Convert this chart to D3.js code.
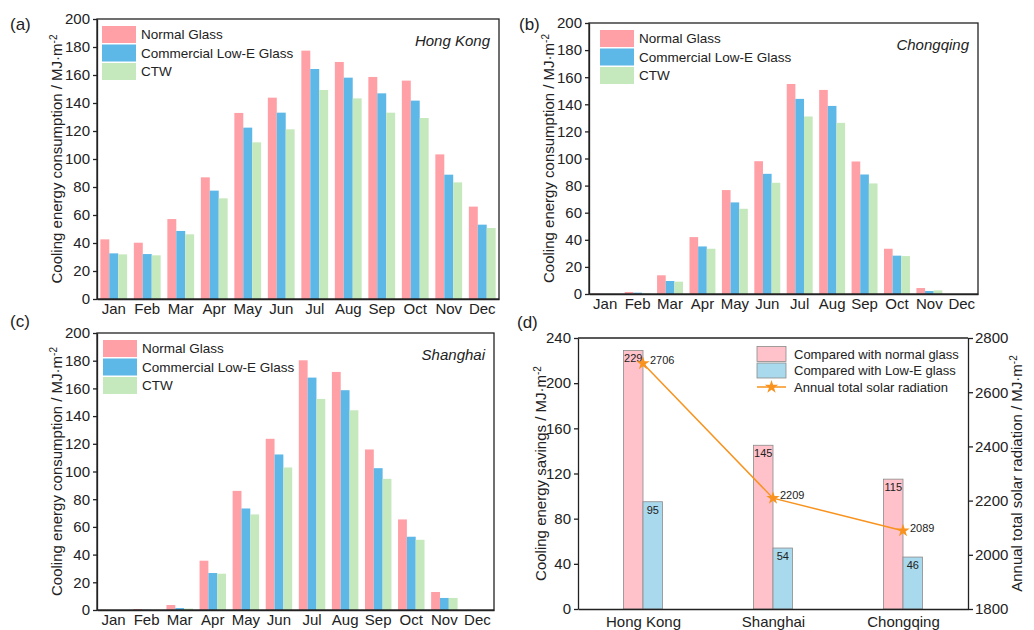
<!DOCTYPE html>
<html>
<head>
<meta charset="utf-8">
<script src="https://cdn.jsdelivr.net/npm/d3@7"></script>
<style>
  body { margin: 0; background: #fff; }
  svg { font-family: "Liberation Sans", Arial, sans-serif; }
</style>
</head>
<body>
<svg width="1034" height="630"></svg>
<script>
// Data
const months = ['Jan', 'Feb', 'Mar', 'Apr', 'May', 'Jun', 'Jul', 'Aug', 'Sep', 'Oct', 'Nov', 'Dec'];
const seriesNames = ['Normal Glass', 'Commercial Low-E Glass', 'CTW'];

const hkNormal = [42.6, 40.2, 57.1, 86.9, 132.9, 143.8, 177.4, 169.3, 158.6, 156.0, 103.3, 66.0];
const hkLowE   = [32.6, 32.1, 48.6, 77.4, 122.4, 133.1, 164.3, 158.1, 146.9, 141.7, 88.8, 53.1];
const hkCTW    = [31.9, 31.2, 46.2, 71.9, 111.9, 121.2, 149.3, 143.3, 133.1, 129.3, 83.3, 50.7];

const cqNormal = [0.3, 1.5, 13.8, 42.0, 76.7, 98.0, 155.0, 150.6, 97.8, 33.4, 4.4, 0];
const cqLowE   = [0.1, 1.0, 9.6, 35.1, 67.6, 88.7, 144.0, 138.8, 88.2, 28.3, 2.2, 0];
const cqCTW    = [0.1, 0.5, 9.1, 33.4, 62.9, 82.1, 131.0, 126.3, 81.6, 28.0, 2.7, 0];

const shNormal = [0.1, 0.7, 3.6, 35.6, 86.0, 123.6, 180.3, 171.9, 115.9, 65.4, 13.0, 0];
const shLowE   = [0, 0.2, 1.4, 26.7, 73.3, 112.3, 167.8, 158.7, 102.4, 52.9, 8.7, 0];
const shCTW    = [0, 0.2, 1.0, 26.2, 69.0, 102.9, 152.4, 144.2, 94.7, 50.7, 8.7, 0];

const cities = ['Hong Kong', 'Shanghai', 'Chongqing'];
const vsNormal = [229, 145, 115];
const vsLowE = [95, 54, 46];
const solarRadiation = [2706, 2209, 2089];

const leftTicks = [0, 20, 40, 60, 80, 100, 120, 140, 160, 180, 200];
const savingTicks = [0, 40, 80, 120, 160, 200, 240];
const solarTicks = [1800, 2000, 2200, 2400, 2600, 2800];

const barColors = ['#ffa0a6', '#5db8e8', '#c6e8bd'];
const ink = '#222';

let svg = d3.select('svg');

function styleAxis(ax) {
    ax.selectAll('path, line').attr('stroke', ink).attr('stroke-width', 1.3);
    ax.selectAll('text').attr('fill', ink).style('font-size', '15px');
}

// rotated title with "MJ·m-2" unit
function axisTitle(x, y, label) {
    let t = svg.append('text')
        .attr('transform', `translate(${x},${y}) rotate(-90)`)
        .attr('text-anchor', 'middle')
        .attr('dy', '0.35em')
        .attr('fill', ink)
        .style('font-size', '15px');
    t.append('tspan').text(label + ' / MJ·m');
    t.append('tspan').attr('dy', '-0.5em').style('font-size', '10px').text('-2');
}

function drawMonthly(box, normal, lowE, ctw, city, tag, legendDx) {
    let rows = months.map((m, i) => ({ month: m, values: [normal[i], lowE[i], ctw[i]] }));

    let xScale = d3.scaleBand()
        .domain(months)
        .range([box.left, box.right])
        .paddingInner(0.2)
        .paddingOuter(0.1);

    let xSub = d3.scaleBand()
        .domain([0, 1, 2])
        .range([0, xScale.bandwidth()]);

    let yScale = d3.scaleLinear()
        .domain([0, 200])
        .range([box.bottom, box.top]);

    let groups = svg.append('g').selectAll('g')
        .data(rows)
        .enter()
        .append('g')
        .attr('transform', d => `translate(${xScale(d.month)},0)`);

    groups.selectAll('rect')
        .data(d => d.values)
        .enter()
        .append('rect')
        .attr('x', (v, i) => xSub(i))
        .attr('y', v => yScale(v))
        .attr('width', xSub.bandwidth())
        .attr('height', v => yScale(0) - yScale(v))
        .attr('fill', (v, i) => barColors[i]);

    // frame
    svg.append('rect')
        .attr('x', box.left).attr('y', box.top)
        .attr('width', box.right - box.left).attr('height', box.bottom - box.top)
        .attr('fill', 'none').attr('stroke', ink).attr('stroke-width', 1.3);

    let yAxis = svg.append('g')
        .attr('transform', `translate(${box.left},0)`)
        .call(d3.axisLeft(yScale).tickValues(leftTicks).tickSize(4).tickSizeOuter(0).tickPadding(3));
    styleAxis(yAxis);

    let xAxis = svg.append('g')
        .attr('transform', `translate(0,${box.bottom})`)
        .call(d3.axisBottom(xScale).tickSize(0).tickPadding(4));
    styleAxis(xAxis);

    axisTitle(box.left - 40, (box.top + box.bottom) / 2, 'Cooling energy consumption');

    // legend
    let lx = box.left + legendDx, ly = box.top + 7;
    seriesNames.forEach((name, i) => {
        svg.append('rect')
            .attr('x', lx).attr('y', ly + i * 18.5)
            .attr('width', 34).attr('height', 17)
            .attr('fill', barColors[i]);
        svg.append('text')
            .attr('x', lx + 39).attr('y', ly + i * 18.5 + 8.5)
            .attr('dy', '0.35em')
            .attr('fill', ink)
            .style('font-size', '13.5px')
            .text(name);
    });

    svg.append('text')
        .attr('x', box.right - 9).attr('y', box.top + 22)
        .attr('dy', '0.35em')
        .attr('text-anchor', 'end')
        .attr('fill', ink)
        .style('font-size', '15px')
        .style('font-style', 'italic')
        .text(city);

    svg.append('text')
        .attr('x', tag.x).attr('y', tag.y)
        .attr('fill', ink)
        .style('font-size', '17px')
        .text(tag.text);
}

drawMonthly({ left: 97, right: 499, top: 19, bottom: 299 }, hkNormal, hkLowE, hkCTW,
    'Hong Kong', { x: 10, y: 30, text: '(a)' }, 5);
drawMonthly({ left: 589, right: 978, top: 23, bottom: 294 }, cqNormal, cqLowE, cqCTW,
    'Chongqing', { x: 519, y: 30, text: '(b)' }, 11);
drawMonthly({ left: 97, right: 494, top: 333, bottom: 610 }, shNormal, shLowE, shCTW,
    'Shanghai', { x: 10, y: 327, text: '(c)' }, 6);

// panel (d)
let box = { left: 578, right: 968, top: 338, bottom: 609 };
let orange = '#f7931e';
let dColors = ['#ffc2cb', '#a9d9ec'];

let xPoint = d3.scalePoint()
    .domain(cities)
    .range([box.left, box.right])
    .padding(0.5);

let ySave = d3.scaleLinear().domain([0, 240]).range([box.bottom, box.top]);
let ySolar = d3.scaleLinear().domain([1800, 2800]).range([box.bottom, box.top]);
let barW = 19.5;

let savingRows = cities.map((c, i) => ({ city: c, values: [vsNormal[i], vsLowE[i]] }));

let cityGroups = svg.append('g').selectAll('g')
    .data(savingRows)
    .enter()
    .append('g')
    .attr('transform', d => `translate(${xPoint(d.city)},0)`);

cityGroups.selectAll('rect')
    .data(d => d.values)
    .enter()
    .append('rect')
    .attr('x', (v, i) => i === 0 ? -barW : 0)
    .attr('y', v => ySave(v))
    .attr('width', barW)
    .attr('height', v => ySave(0) - ySave(v))
    .attr('fill', (v, i) => dColors[i])
    .attr('stroke', '#8a8a8a')
    .attr('stroke-width', 0.8);

cityGroups.selectAll('text')
    .data(d => d.values)
    .enter()
    .append('text')
    .attr('x', (v, i) => i === 0 ? -barW / 2 : barW / 2)
    .attr('y', v => ySave(v) + 12)
    .attr('text-anchor', 'middle')
    .attr('fill', ink)
    .style('font-size', '11px')
    .text(v => v);

let line = d3.line()
    .x((v, i) => xPoint(cities[i]))
    .y(v => ySolar(v));

svg.append('path')
    .datum(solarRadiation)
    .attr('d', line)
    .attr('fill', 'none')
    .attr('stroke', orange)
    .attr('stroke-width', 1.5);

let star = d3.symbol().type(d3.symbolStar).size(55);

svg.selectAll('.star')
    .data(solarRadiation)
    .enter()
    .append('path')
    .attr('class', 'star')
    .attr('d', star)
    .attr('transform', (v, i) => `translate(${xPoint(cities[i])},${ySolar(v)})`)
    .attr('fill', orange);

svg.selectAll('.solarLabel')
    .data(solarRadiation)
    .enter()
    .append('text')
    .attr('class', 'solarLabel')
    .attr('x', (v, i) => xPoint(cities[i]) + 7)
    .attr('y', v => ySolar(v) - 3)
    .attr('dy', '0.35em')
    .attr('fill', ink)
    .style('font-size', '11px')
    .text(v => v);

// top frame line
svg.append('line')
    .attr('x1', box.left).attr('x2', box.right)
    .attr('y1', box.top).attr('y2', box.top)
    .attr('stroke', ink).attr('stroke-width', 1.3);

let dLeft = svg.append('g')
    .attr('transform', `translate(${box.left},0)`)
    .call(d3.axisLeft(ySave).tickValues(savingTicks).tickSize(4).tickSizeOuter(0).tickPadding(3));
styleAxis(dLeft);

let dRight = svg.append('g')
    .attr('transform', `translate(${box.right},0)`)
    .call(d3.axisRight(ySolar).tickValues(solarTicks).tickFormat(d3.format('d'))
        .tickSize(5).tickSizeOuter(0).tickPadding(2));
styleAxis(dRight);

let dBottom = svg.append('g')
    .attr('transform', `translate(0,${box.bottom})`)
    .call(d3.axisBottom(xPoint).tickSize(0).tickPadding(7));
styleAxis(dBottom);

axisTitle(box.left - 37, (box.top + box.bottom) / 2, 'Cooling energy savings');
axisTitle(box.right + 49, (box.top + box.bottom) / 2, 'Annual total solar radiation');

// legend (d)
let legendNames = ['Compared with normal glass', 'Compared with Low-E glass', 'Annual total solar radiation'];
let lx = 757, ly = 354;
legendNames.forEach((name, i) => {
    let cy = ly + i * 16.5;
    if (i < 2) {
        svg.append('rect')
            .attr('x', lx).attr('y', cy - 7.5)
            .attr('width', 29).attr('height', 15)
            .attr('fill', dColors[i])
            .attr('stroke', '#8a8a8a')
            .attr('stroke-width', 0.8);
    } else {
        svg.append('line')
            .attr('x1', lx).attr('x2', lx + 29)
            .attr('y1', cy).attr('y2', cy)
            .attr('stroke', orange).attr('stroke-width', 1.5);
        svg.append('path')
            .attr('d', star)
            .attr('transform', `translate(${lx + 14.5},${cy})`)
            .attr('fill', orange);
    }
    svg.append('text')
        .attr('x', lx + 37).attr('y', cy)
        .attr('dy', '0.35em')
        .attr('fill', ink)
        .style('font-size', '13px')
        .text(name);
});

svg.append('text')
    .attr('x', 517).attr('y', 328)
    .attr('fill', ink)
    .style('font-size', '17px')
    .text('(d)');
</script>
</body>
</html>
